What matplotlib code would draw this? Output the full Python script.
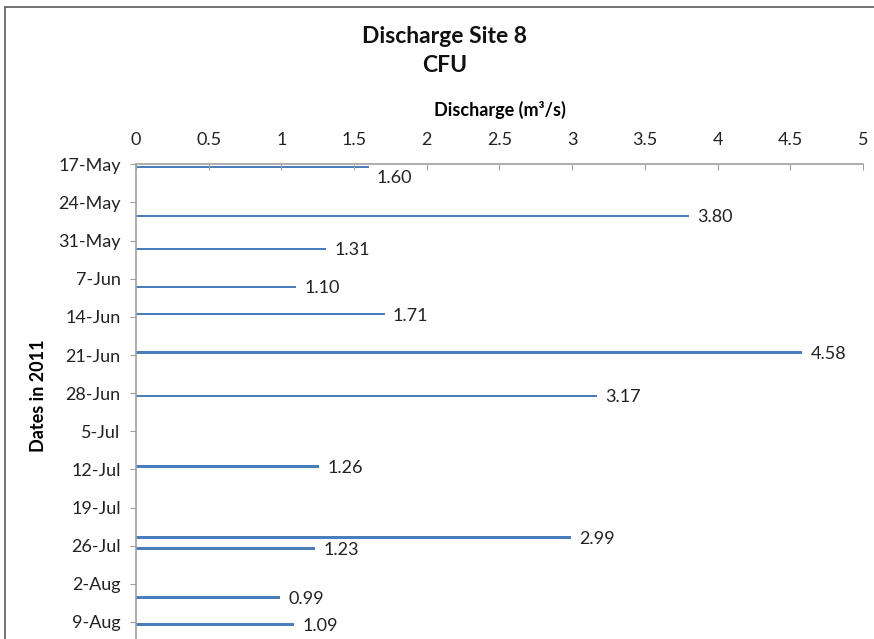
import matplotlib
matplotlib.use("Agg")
import matplotlib.pyplot as plt
import matplotlib.dates as mdates
from matplotlib.patches import Rectangle
import pandas as pd

# Datos: caudal medido por fecha (m3/s)
fechas = ["2011-05-17", "2011-05-26", "2011-06-01", "2011-06-08", "2011-06-13",
          "2011-06-20", "2011-06-28", "2011-07-11", "2011-07-24", "2011-07-26",
          "2011-08-04", "2011-08-09"]
caudal = [1.60, 3.80, 1.31, 1.10, 1.71, 4.58, 3.17, 1.26, 2.99, 1.23, 0.99, 1.09]
etiquetas = ["1.60", "3.80", "1.31", "1.10", "1.71", "4.58", "3.17", "1.26",
             "2.99", "1.23", "0.99", "1.09"]

inicio = "2011-05-17"
fin = "2011-08-16"
ticks_x = [0, 0.5, 1, 1.5, 2, 2.5, 3, 3.5, 4, 4.5, 5]

plt.rcParams["font.family"] = ["Lato", "DejaVu Sans"]

fig = plt.figure(figsize=(8.74, 6.39), dpi=100)
ax = fig.add_axes([0.1556, -0.033, 0.8318, 0.7758])

# Excel centra cada barra en su dia
y = pd.to_datetime(fechas) + pd.Timedelta(hours=12)
ax.barh(y, caudal, height=0.45, color="#4a7ebb", edgecolor="none")

for i, (fy, v, txt) in enumerate(zip(y, caudal, etiquetas)):
    dy = -8 if i == 0 else -1
    ax.annotate(txt, (v, fy), xytext=(6, dy), textcoords="offset points",
                va="center", ha="left", fontsize=13, color="#222222")

ax.set_xlim(0, 5)
ax.set_ylim(pd.Timestamp(fin), pd.Timestamp(inicio))
ax.set_xticks(ticks_x)
ax.set_xticklabels([f"{t:g}" for t in ticks_x])
ax.set_yticks(pd.date_range(inicio, "2011-08-09", freq="7D"))
ax.yaxis.set_major_formatter(mdates.DateFormatter("%-d-%b"))

ax.xaxis.tick_top()
ax.xaxis.set_label_position("top")
ax.set_xlabel("Discharge (m³/s)", fontsize=13, fontweight="bold", labelpad=12)
ax.set_ylabel("Dates in 2011", fontsize=13, fontweight="bold")
ax.yaxis.set_label_coords(-0.1226, 0.534)

for s in ["right", "bottom"]:
    ax.spines[s].set_visible(False)
for s in ["top", "left"]:
    ax.spines[s].set_color("#a0a0a0")
    ax.spines[s].set_linewidth(1.2)
ax.tick_params(axis="x", direction="in", length=4, color="#a0a0a0",
               labelsize=13, pad=11.5, labelcolor="#222222")
ax.tick_params(axis="y", direction="out", length=4, color="#a0a0a0",
               labelsize=13, pad=7, labelcolor="#222222")

fig.text(0.509, 0.943, "Discharge Site 8", ha="center", va="center",
         fontsize=16.5, fontweight="bold", color="#111111")
fig.text(0.509, 0.897, "CFU", ha="center", va="center",
         fontsize=16.5, fontweight="bold", color="#111111")

# marco exterior del grafico
fig.patches.append(Rectangle((0.006, -0.1), 1.2, 1.089, transform=fig.transFigure,
                             fill=False, edgecolor="#5a5a5a", linewidth=1.2))

fig.savefig("out.png", dpi=100)
